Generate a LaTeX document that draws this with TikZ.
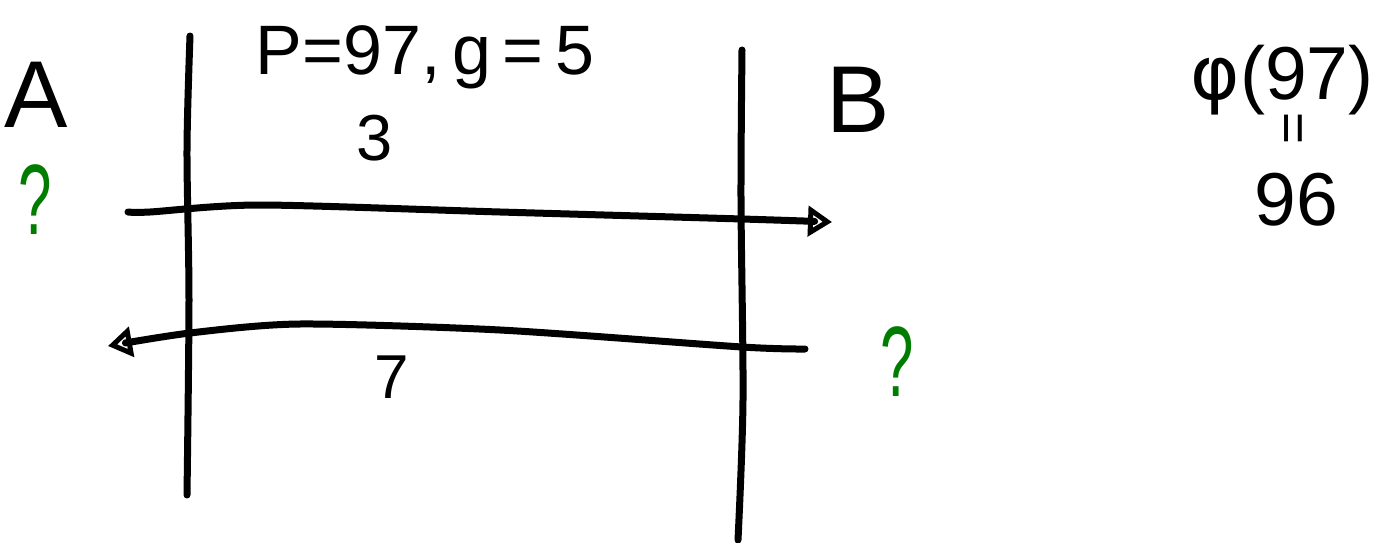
\documentclass[tikz,border=0pt]{standalone}
\usepackage{fontspec}
\setmainfont{Liberation Sans}
\newfontfamily\symfont{DejaVu Sans}
\usetikzlibrary{arrows.meta}
\definecolor{qgreen}{RGB}{0,125,0}
\tikzset{
  handline/.style={line width=7pt, line cap=round, line join=round, black},
  headR/.style={-{Triangle[open,length=24pt,width=30pt,line width=5pt]}},
  lbl/.style={inner sep=0pt, text=black},
  qmark/.style={inner sep=0pt, text=qgreen, font=\fontsize{100}{100}\selectfont, xscale=0.6},
}
\begin{document}
\begin{tikzpicture}[x=1pt,y=-1pt]
\useasboundingbox (0,0) rectangle (1377,543);
% vertical lines
\coordinate (L0) at (190,36); \coordinate (L1) at (187,495);
\coordinate (R0) at (742,50); \coordinate (R1) at (738,540);
\draw[handline] plot[smooth] coordinates {(L0) (187,150) (189,300) (L1)};
\draw[handline] plot[smooth] coordinates {(R0) (741,200) (743,400) (R1)};
% arrows
\coordinate (ta) at (128,212); \coordinate (tb) at (832,222);
\coordinate (ba) at (805,349); \coordinate (bb) at (108,346);
\draw[handline,headR] plot[smooth,tension=0.45] coordinates {(ta) (150,212) (260,205) (500,212) (742,219) (tb)};
\draw[handline,headR] plot[smooth,tension=0.45] coordinates {(ba) (742,347) (500,330) (300,324) (190,333) (bb)};
% labels
\node[lbl,font=\fontsize{95}{100}\selectfont] (A) at (36,95) {A};
\node[lbl,font=\fontsize{95}{100}\selectfont] (B) at (858,100) {B};
\node[qmark] (qa) at (35,200) {?};
\node[qmark] (qb) at (897,362) {?};
\node[lbl,anchor=base,font=\fontsize{70}{80}\selectfont] (pg) at (425,75) {P=97,\,g\,=\,5};
\node[lbl,font=\fontsize{65}{70}\selectfont] (k3) at (375,138) {3};
\node[lbl,font=\fontsize{62}{70}\selectfont] (k7) at (392,377) {7};
\node[lbl,font=\fontsize{75}{80}\selectfont] (phi) at (1282,80) {{\symfont φ}(97)};
\node[lbl,rotate=90,font=\fontsize{55}{55}\selectfont] (eq) at (1298,128) {=};
\node[lbl,font=\fontsize{75}{80}\selectfont] (n96) at (1296,200) {96};
\end{tikzpicture}
\end{document}
